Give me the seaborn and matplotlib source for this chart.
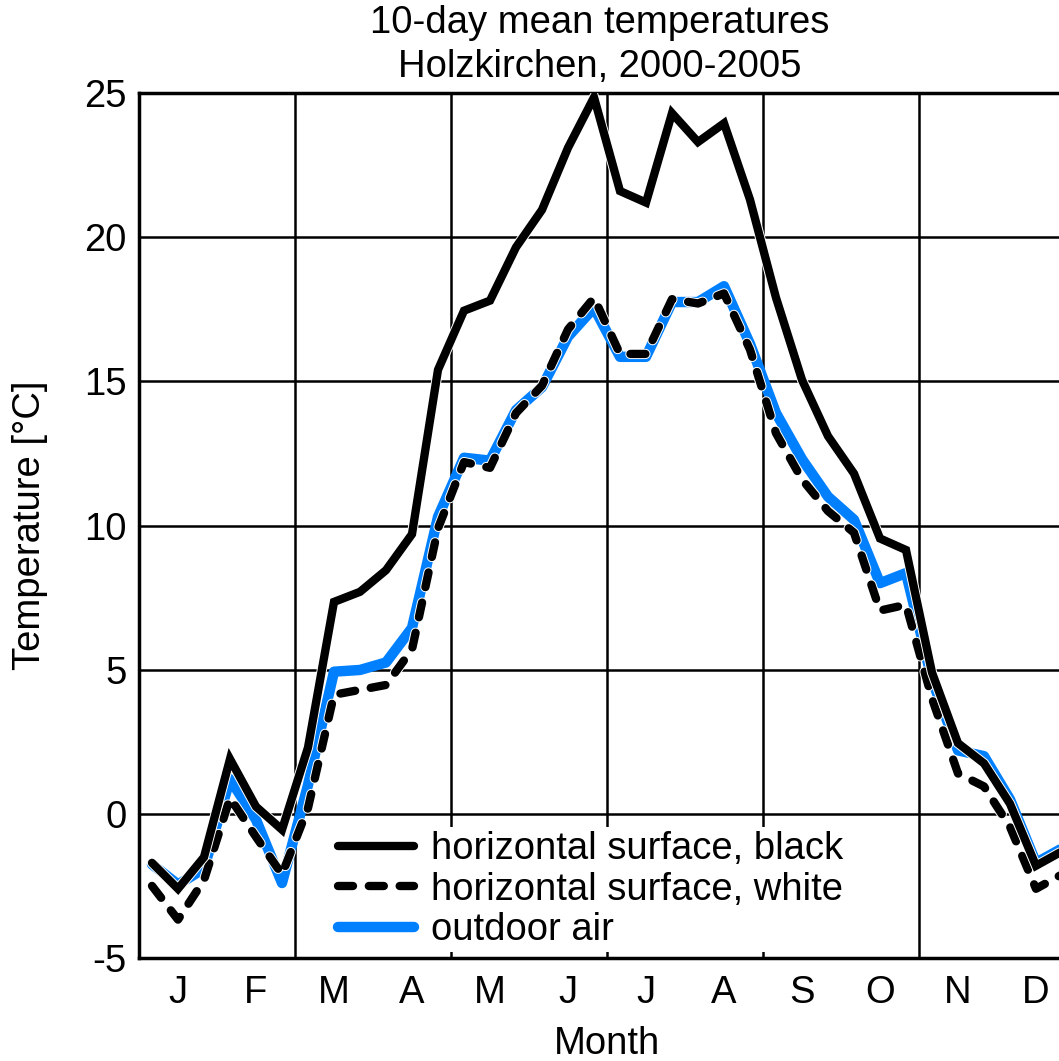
import numpy as np
import pandas as pd
import seaborn as sns
import matplotlib.pyplot as plt
from matplotlib import patheffects as pe

# 10-day periods (36 per year)
month_labels = ['J', 'F', 'M', 'A', 'M', 'J', 'J', 'A', 'S', 'O', 'N', 'D']
decade = np.arange(36)

black_surface = [-1.7, -2.6, -1.5, 1.9, 0.25, -0.55, 2.3, 7.35, 7.7, 8.45, 9.7, 15.4,
                 17.45, 17.8, 19.65, 20.95, 23.1, 24.85, 21.6, 21.2, 24.3, 23.3, 23.95, 21.3,
                 17.9, 15.05, 13.1, 11.8, 9.55, 9.15, 4.9, 2.45, 1.75, 0.35, -1.8, -1.3]
white_surface = [-2.5, -3.67, -2.3, 0.55, -0.8, -2.1, 0.2, 4.13, 4.3, 4.47, 5.7, 9.9,
                 12.2, 12.0, 13.9, 14.85, 16.8, 17.9, 15.95, 15.95, 17.85, 17.7, 18.05, 16.1,
                 13.2, 11.6, 10.5, 9.75, 7.05, 7.25, 4.0, 1.4, 0.95, -0.45, -2.6, -2.1]
outdoor_air = [-1.75, -2.45, -1.9, 1.2, -0.2, -2.4, 1.0, 4.93, 4.99, 5.25, 6.45, 10.3,
               12.35, 12.25, 14.0, 14.8, 16.55, 17.55, 15.85, 15.85, 17.75, 17.75, 18.3, 16.3,
               13.9, 12.3, 11.0, 10.2, 8.0, 8.35, 4.65, 2.2, 2.0, 0.5, -1.7, -1.2]

df = pd.DataFrame({
    'month': (decade + 0.5) / 3,
    'black': black_surface,
    'white': white_surface,
    'air': outdoor_air,
})

sns.set_style('white')
plt.rcParams['font.family'] = ['Liberation Sans', 'DejaVu Sans']
plt.rcParams['axes.unicode_minus'] = False
for key in ['text.color', 'axes.labelcolor', 'xtick.color', 'ytick.color']:
    plt.rcParams[key] = 'black'
FS = 27.5
BLUE = '#0080ff'

fig = plt.figure(figsize=(10.59, 10.61), dpi=100)
ax = fig.add_axes([139 / 1059, 103 / 1061, 936 / 1059, 865 / 1061])

halo = [pe.Stroke(linewidth=7.4, foreground='white'), pe.Normal()]
sns.lineplot(data=df, x='month', y='black', ax=ax, color='black', lw=6,
             solid_capstyle='round', solid_joinstyle='miter',
             label='horizontal surface, black', zorder=4, path_effects=halo)
sns.lineplot(data=df, x='month', y='white', ax=ax, color='black', lw=6,
             linestyle=(0, (1.8, 1.9)), dash_capstyle='round',
             label='horizontal surface, white', zorder=3.5, path_effects=halo)
sns.lineplot(data=df, x='month', y='air', ax=ax, color=BLUE, lw=7.5,
             solid_capstyle='round', label='outdoor air', zorder=3)

ax.set_xlim(0, 12)
ax.set_ylim(-5, 25)
ax.set_yticks(range(-5, 26, 5))
ax.set_xticks(range(0, 13, 2))
ax.set_xticklabels([])
ax.set_xticks(np.arange(12) + 0.5, minor=True)
ax.set_xticklabels(month_labels, minor=True)
ax.tick_params(axis='x', which='major', direction='in', length=6, width=2, color='black')
ax.tick_params(axis='x', which='minor', length=0, pad=12, labelsize=FS)
ax.tick_params(axis='y', length=0, pad=9, labelsize=FS)
ax.grid(True, which='major', color='black', lw=1.8)

for s in ax.spines.values():
    s.set_color('black')
    s.set_linewidth(2.5)

ax.set_xlabel('Month', fontsize=FS)
ax.xaxis.set_label_coords(0.5, (958 - 1026) / 865)
ax.set_ylabel('Temperature [°C]', fontsize=FS)
ax.yaxis.set_label_coords((48 - 139) / 936, 0.5)

fig.text(600 / 1059, 1 - 5 / 1061, '10-day mean temperatures\nHolzkirchen, 2000-2005',
         ha='center', va='top', fontsize=FS, linespacing=1.3)

leg = ax.legend(loc='lower left', bbox_to_anchor=((334 - 139) / 936, (958 - 952) / 865),
                borderaxespad=0, borderpad=0.1, handlelength=2.0, handletextpad=0.45,
                labelspacing=0.12, frameon=True, fancybox=False, edgecolor='none',
                facecolor='white', framealpha=1, fontsize=FS)

fig.savefig('out.png', dpi=100)
